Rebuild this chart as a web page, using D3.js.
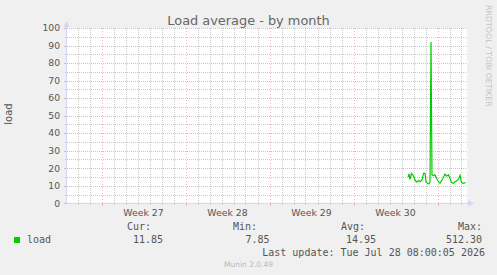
<!DOCTYPE html>
<html>
<head>
<meta charset="utf-8">
<script src="https://cdn.jsdelivr.net/npm/d3@7/dist/d3.min.js"></script>
<style>
  body { margin: 0; background: #f0f0f0; }
  svg { display: block; }
</style>
</head>
<body>
<div id="chart"></div>
<script>
// load samples (munin "by month" view)
var times = [
  "2026-07-24T13:00", "2026-07-24T15:00", "2026-07-24T17:00", "2026-07-24T20:00",
  "2026-07-25T00:00", "2026-07-25T03:00", "2026-07-25T06:00", "2026-07-25T11:00",
  "2026-07-25T14:00", "2026-07-25T17:00", "2026-07-25T20:00", "2026-07-25T23:00",
  "2026-07-26T01:00", "2026-07-26T04:00", "2026-07-26T07:00", "2026-07-26T09:00",
  "2026-07-26T11:00", "2026-07-26T13:00", "2026-07-26T16:00", "2026-07-26T19:00",
  "2026-07-26T22:00", "2026-07-27T02:00", "2026-07-27T05:00", "2026-07-27T08:00",
  "2026-07-27T12:00", "2026-07-27T15:00", "2026-07-27T18:00", "2026-07-27T22:00",
  "2026-07-28T01:00", "2026-07-28T04:00", "2026-07-28T08:00", "2026-07-28T11:00",
  "2026-07-28T14:00", "2026-07-28T18:00", "2026-07-28T21:00", "2026-07-29T00:00",
  "2026-07-29T04:00", "2026-07-29T08:00"
];
var loads = [
  14.9, 16.8, 13.7, 17.1,
  15.6, 13.3, 12.2, 12.9,
  12.4, 13.3, 17.1, 17.1,
  12.2, 11.4, 11.0, 12.2,
  92.0, 16.2, 15.8, 16.2,
  14.3, 12.3, 11.4, 12.9,
  14.9, 16.7, 15.6, 16.2,
  14.3, 11.8, 11.4, 12.3,
  12.7, 13.8, 16.0, 11.8,
  11.4, 11.85
];
var timeRange  = ["2026-06-26T03:00", "2026-07-29T11:00"];
var weekStarts = ["2026-06-29T00:00", "2026-07-06T00:00", "2026-07-13T00:00", "2026-07-20T00:00", "2026-07-27T00:00"];
var weekLabels = ["Week 27", "Week 28", "Week 29", "Week 30"];
var yMajor = [0, 10, 20, 30, 40, 50, 60, 70, 80, 90, 100];
var yMinor = [5, 15, 25, 35, 45, 55, 65, 75, 85, 95];
var legendHeads  = ["Cur:", "Min:", "Avg:", "Max:"];
var legendValues = ["11.85", "7.85", "14.95", "512.30"];
var lastUpdate = "Last update: Tue Jul 28 08:00:05 2026";

/** Layout **/
var W = 497, H = 275;
var plot = {left: 67, right: 467, top: 28, bottom: 203.3};
var colors = {
  canvas: "#ffffff", font: "#555555", title: "#666666",
  axis: "#cfd6f8", grid: "rgba(150,150,150,0.5)", mgrid: "rgba(225,90,90,0.45)",
  line: "#00cc00"
};
var sans = "'DejaVu Sans', sans-serif";
var mono = "'DejaVu Sans Mono', monospace";

var parse = function (s) { return new Date(s); };
var data = times.map(function (t, i) { return {t: parse(t), v: loads[i]}; });

var x = d3.scaleTime().domain(timeRange.map(parse)).range([plot.left, plot.right]);
var y = d3.scaleLinear().domain([0, 100]).range([plot.bottom, plot.top]);

var svg = d3.select("#chart").append("svg").attr("width", W).attr("height", H);
svg.append("rect").attr("width", W).attr("height", H).attr("fill", "#f0f0f0");
svg.append("rect")
  .attr("x", plot.left).attr("y", plot.top)
  .attr("width", plot.right - plot.left).attr("height", plot.bottom - plot.top)
  .attr("fill", colors.canvas);

drawGrid();
drawLine();
drawAxes();
drawTexts();
drawLegend();

function drawGrid() {
  var g = svg.append("g").attr("shape-rendering", "crispEdges");
  var days = d3.timeDay.range(x.domain()[0], x.domain()[1]);
  var mondays = weekStarts.map(parse);
  var isMonday = function (d) { return mondays.some(function (m) { return +m === +d; }); };
  // minor: days and half decades
  g.selectAll("line.vminor").data(days.filter(function (d) { return !isMonday(d); }))
    .enter().append("line")
    .attr("x1", function (d) { return Math.round(x(d)) + 0.5; })
    .attr("x2", function (d) { return Math.round(x(d)) + 0.5; })
    .attr("y1", plot.top).attr("y2", plot.bottom + 2)
    .attr("stroke", colors.grid).attr("stroke-dasharray", "1,1");
  g.selectAll("line.hminor").data(yMinor).enter().append("line")
    .attr("x1", plot.left - 2).attr("x2", plot.right)
    .attr("y1", function (d) { return Math.round(y(d)) + 0.5; })
    .attr("y2", function (d) { return Math.round(y(d)) + 0.5; })
    .attr("stroke", colors.grid).attr("stroke-dasharray", "1,1");
  // major: weeks and decades
  g.selectAll("line.vmajor").data(mondays).enter().append("line")
    .attr("x1", function (d) { return Math.round(x(d)) + 0.5; })
    .attr("x2", function (d) { return Math.round(x(d)) + 0.5; })
    .attr("y1", plot.top).attr("y2", plot.bottom)
    .attr("stroke", colors.mgrid).attr("stroke-dasharray", "1,2");
  g.selectAll("line.vtick").data(mondays).enter().append("line")
    .attr("x1", function (d) { return Math.round(x(d)) + 0.5; })
    .attr("x2", function (d) { return Math.round(x(d)) + 0.5; })
    .attr("y1", plot.bottom).attr("y2", plot.bottom + 3)
    .attr("stroke", colors.mgrid);
  g.selectAll("line.hmajor").data(yMajor.slice(1)).enter().append("line")
    .attr("x1", plot.left).attr("x2", plot.right)
    .attr("y1", function (d) { return Math.round(y(d)) + 0.5; })
    .attr("y2", function (d) { return Math.round(y(d)) + 0.5; })
    .attr("stroke", colors.mgrid).attr("stroke-dasharray", "1,1");
  g.selectAll("line.htick").data(yMajor).enter().append("line")
    .attr("x1", plot.left - 3).attr("x2", plot.left)
    .attr("y1", function (d) { return Math.round(y(d)) + 0.5; })
    .attr("y2", function (d) { return Math.round(y(d)) + 0.5; })
    .attr("stroke", colors.mgrid);
}

function drawLine() {
  var line = d3.line().x(function (d) { return x(d.t); }).y(function (d) { return y(d.v); });
  svg.append("path").datum(data)
    .attr("d", line)
    .attr("fill", "none")
    .attr("stroke", colors.line)
    .attr("stroke-width", 1.2)
    .attr("stroke-linejoin", "miter");
}

function drawAxes() {
  var g = svg.append("g");
  g.append("line")
    .attr("x1", plot.left - 0.5).attr("x2", plot.left - 0.5)
    .attr("y1", plot.bottom).attr("y2", plot.top - 4)
    .attr("stroke", colors.axis);
  g.append("line")
    .attr("x1", plot.left).attr("x2", plot.right + 3)
    .attr("y1", plot.bottom).attr("y2", plot.bottom)
    .attr("stroke", colors.axis);
  // arrows
  g.append("path")
    .attr("d", "M" + (plot.left - 3.5) + "," + (plot.top - 1) + "L" + (plot.left - 0.5) + "," + (plot.top - 7) +
      "L" + (plot.left + 2.5) + "," + (plot.top - 1) + "Z")
    .attr("fill", colors.axis);
  g.append("path")
    .attr("d", "M" + (plot.right + 1) + "," + (plot.bottom - 3) + "L" + (plot.right + 7) + "," + plot.bottom +
      "L" + (plot.right + 1) + "," + (plot.bottom + 3) + "Z")
    .attr("fill", colors.axis);

  // y labels
  g.selectAll("text.ylab").data(yMajor).enter().append("text")
    .attr("x", plot.left - 7).attr("y", function (d) { return y(d) + 3.3; })
    .attr("text-anchor", "end")
    .attr("font-family", sans).attr("font-size", "9.2px").attr("fill", colors.font)
    .text(function (d) { return d; });
  // week labels, centered between the week boundaries
  g.selectAll("text.xlab").data(weekLabels).enter().append("text")
    .attr("x", function (d, i) {
      return (x(parse(weekStarts[i])) + x(parse(weekStarts[i + 1]))) / 2;
    })
    .attr("y", 216)
    .attr("text-anchor", "middle")
    .attr("font-family", sans).attr("font-size", "9.3px").attr("fill", colors.font)
    .text(function (d) { return d; });
}

function drawTexts() {
  svg.append("text")
    .attr("x", 248.5).attr("y", 25)
    .attr("text-anchor", "middle")
    .attr("font-family", sans).attr("font-size", "12.9px").attr("fill", colors.title)
    .text("Load average - by month");
  svg.append("text")
    .attr("transform", "translate(12,114) rotate(-90)")
    .attr("text-anchor", "middle")
    .attr("font-family", sans).attr("font-size", "10px").attr("fill", colors.font)
    .text("load");
  svg.append("text")
    .attr("transform", "translate(486,5) rotate(90)")
    .attr("text-anchor", "start")
    .attr("font-family", sans).attr("font-size", "7.9px").attr("fill", "#c4c4c4")
    .text("RRDTOOL / TOBI OETIKER");
  svg.append("text")
    .attr("x", 248.5).attr("y", 267)
    .attr("text-anchor", "middle")
    .attr("font-family", sans).attr("font-size", "7.5px").attr("fill", "#b8b8b8")
    .text("Munin 2.0.49");
}

function drawLegend() {
  var g = svg.append("g").attr("font-family", mono).attr("font-size", "10px").attr("fill", colors.font);
  var headX  = [127, 233, 341, 482];
  var valueX = [163, 269.5, 376, 482];
  g.append("rect").attr("x", 14).attr("y", 237).attr("width", 6).attr("height", 6).attr("fill", colors.line);
  g.append("text").attr("x", 27).attr("y", 243).text("load");
  g.selectAll("text.head").data(legendHeads).enter().append("text")
    .attr("x", function (d, i) { return headX[i]; }).attr("y", 230)
    .attr("text-anchor", function (d, i) { return i === 3 ? "end" : "start"; })
    .text(function (d) { return d; });
  g.selectAll("text.val").data(legendValues).enter().append("text")
    .attr("x", function (d, i) { return valueX[i]; }).attr("y", 243)
    .attr("text-anchor", "end")
    .text(function (d) { return d; });
  g.append("text").attr("x", 485).attr("y", 256).attr("text-anchor", "end").text(lastUpdate);
}
</script>
</body>
</html>
